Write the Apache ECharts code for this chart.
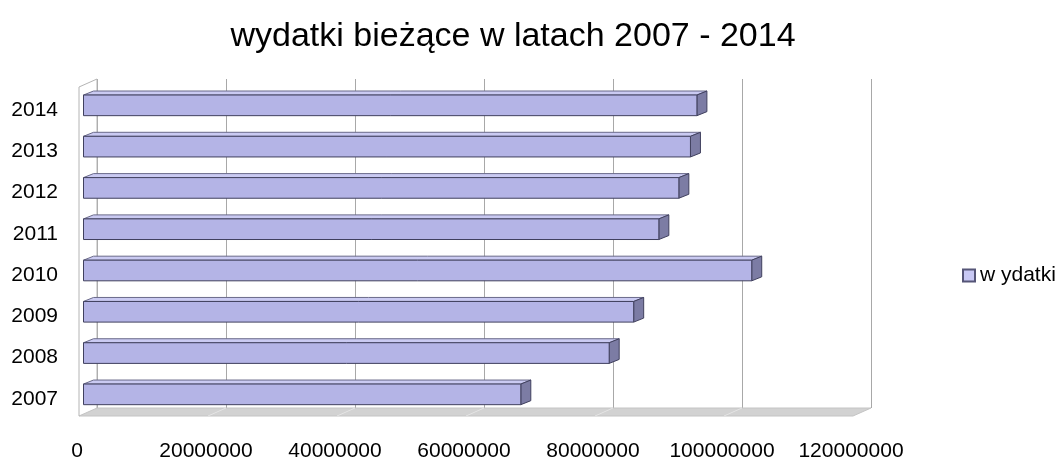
<!DOCTYPE html>
<html>
<head>
<meta charset="utf-8">
<script src="https://cdn.jsdelivr.net/npm/echarts@6/dist/echarts.min.js"></script>
<style>
  html, body { margin: 0; padding: 0; background: #fff; }
  #chart { width: 1060px; height: 459px; }
</style>
</head>
<body>
<div id="chart"></div>
<script>
// data
var years = ['2007', '2008', '2009', '2010', '2011', '2012', '2013', '2014']
var wydatki = [67800000, 81500000, 85300000, 103600000, 89200000, 92300000, 94100000, 95100000]
var seriesName = 'w ydatki'
var titleText = 'wydatki bieżące w latach 2007 - 2014'
var xMax = 120000000
var xStep = 20000000

var font = '"Liberation Sans", Arial, sans-serif'

// bar depth (front face -> back)
var barDx = 10
var barDy = -4
// wall depth (back wall -> front edge)
var wallDx = -18
var wallDy = 8

var chart = echarts.init(document.getElementById('chart'))

function renderBar(params, api) {
  var cat = api.value(1)
  var start = api.coord([0, cat])
  var end = api.coord([api.value(0), cat])
  var h = api.size([0, 1])[1] * 0.5
  var x0 = start[0]
  var x1 = end[0]
  var y0 = end[1] - h / 2
  var y1 = end[1] + h / 2
  var line = '#40405e'
  return {
    type: 'group',
    children: [
      {
        type: 'polygon',
        shape: { points: [[x0, y0], [x1, y0], [x1 + barDx, y0 + barDy], [x0 + barDx, y0 + barDy]] },
        style: { fill: '#cacaf2', stroke: '#6a6a8a', lineWidth: 1 }
      },
      {
        type: 'polygon',
        shape: { points: [[x1, y0], [x1 + barDx, y0 + barDy], [x1 + barDx, y1 + barDy], [x1, y1]] },
        style: { fill: '#7c7ca4', stroke: line, lineWidth: 1 }
      },
      {
        type: 'rect',
        shape: { x: x0, y: y0, width: x1 - x0, height: y1 - y0 },
        style: { fill: '#b4b4e6', stroke: line, lineWidth: 1 }
      }
    ]
  }
}

function renderRoom(params, api) {
  var band = api.size([0, 1])[1]
  var bl = api.coord([0, 0])
  var br = api.coord([xMax, 0])
  var tl = api.coord([0, years.length - 1])
  var yb = bl[1] + band / 2
  var yt = tl[1] - band / 2
  var children = []
  // floor
  children.push({
    type: 'polygon',
    shape: { points: [[bl[0], yb], [br[0], yb], [br[0] + wallDx, yb + wallDy], [bl[0] + wallDx, yb + wallDy]] },
    style: { fill: '#d2d2d2', stroke: '#c4c4c4', lineWidth: 1 }
  })
  for (var v = xStep; v < xMax; v += xStep) {
    var p = api.coord([v, 0])
    children.push({
      type: 'line',
      shape: { x1: p[0], y1: yb, x2: p[0] + wallDx, y2: yb + wallDy },
      style: { stroke: '#e4e4e4', lineWidth: 1 }
    })
  }
  // left wall
  children.push({
    type: 'polyline',
    shape: { points: [[bl[0], yb], [bl[0], yt], [bl[0] + wallDx, yt + wallDy], [bl[0] + wallDx, yb + wallDy]] },
    style: { fill: 'none', stroke: '#b4b4b4', lineWidth: 1 }
  })
  return { type: 'group', children: children }
}

var option = {
  backgroundColor: '#ffffff',
  animation: false,
  title: {
    text: titleText,
    left: 508,
    top: 15,
    textAlign: 'center',
    textStyle: {
      fontFamily: font,
      fontSize: 34,
      fontWeight: 'normal',
      color: '#000'
    }
  },
  legend: {
    left: 957,
    top: 260,
    orient: 'vertical',
    icon: 'rect',
    itemWidth: 12,
    itemHeight: 12,
    itemGap: 8,
    textStyle: { fontFamily: font, fontSize: 21, color: '#000' },
    data: [seriesName]
  },
  grid: [
    // front face of the bars
    { left: 83.5, right: 202.5, top: 84.7, bottom: 44, outerBoundsMode: 'none', containLabel: false },
    // back wall
    { left: 97, right: 189, top: 79, bottom: 51, outerBoundsMode: 'none', containLabel: false },
    // axis labels (front edge of the room)
    { left: 77, right: 209, top: 89.5, bottom: 39.5, outerBoundsMode: 'none', containLabel: false }
  ],
  xAxis: [
    {
      gridIndex: 0,
      type: 'value',
      min: 0,
      max: xMax,
      interval: xStep,
      show: false
    },
    {
      gridIndex: 1,
      type: 'value',
      min: 0,
      max: xMax,
      interval: xStep,
      axisLine: { show: false },
      axisTick: { show: false },
      axisLabel: { show: false },
      splitLine: { show: true, lineStyle: { color: '#a8a8a8', width: 1 } }
    },
    {
      gridIndex: 2,
      type: 'value',
      min: 0,
      max: xMax,
      interval: xStep,
      axisLine: { show: false },
      axisTick: { show: false },
      splitLine: { show: false },
      axisLabel: {
        margin: 21,
        fontFamily: font,
        fontSize: 21,
        color: '#000',
        showMaxLabel: true,
        formatter: function (v) { return String(v) }
      }
    }
  ],
  yAxis: [
    {
      gridIndex: 0,
      type: 'category',
      data: years,
      show: false
    },
    {
      gridIndex: 1,
      type: 'category',
      data: years,
      axisLine: { show: false },
      axisTick: { show: false },
      axisLabel: { show: false },
      splitLine: { show: false }
    },
    {
      gridIndex: 2,
      type: 'category',
      data: years,
      axisLine: { show: false },
      axisTick: { show: false },
      splitLine: { show: false },
      axisLabel: {
        margin: 19,
        fontFamily: font,
        fontSize: 21,
        color: '#000'
      }
    }
  ],
  series: [
    {
      type: 'custom',
      name: 'room',
      xAxisIndex: 1,
      yAxisIndex: 1,
      z: 1,
      silent: true,
      renderItem: renderRoom,
      data: [[0, 0]]
    },
    {
      type: 'custom',
      name: seriesName,
      xAxisIndex: 0,
      yAxisIndex: 0,
      z: 3,
      itemStyle: { color: '#c8c8f4', borderColor: '#555577', borderWidth: 1 },
      encode: { x: 0, y: 1 },
      renderItem: renderBar,
      data: wydatki.map(function (v, i) { return [v, i] })
    }
  ]
}

chart.setOption(option)
</script>
</body>
</html>
